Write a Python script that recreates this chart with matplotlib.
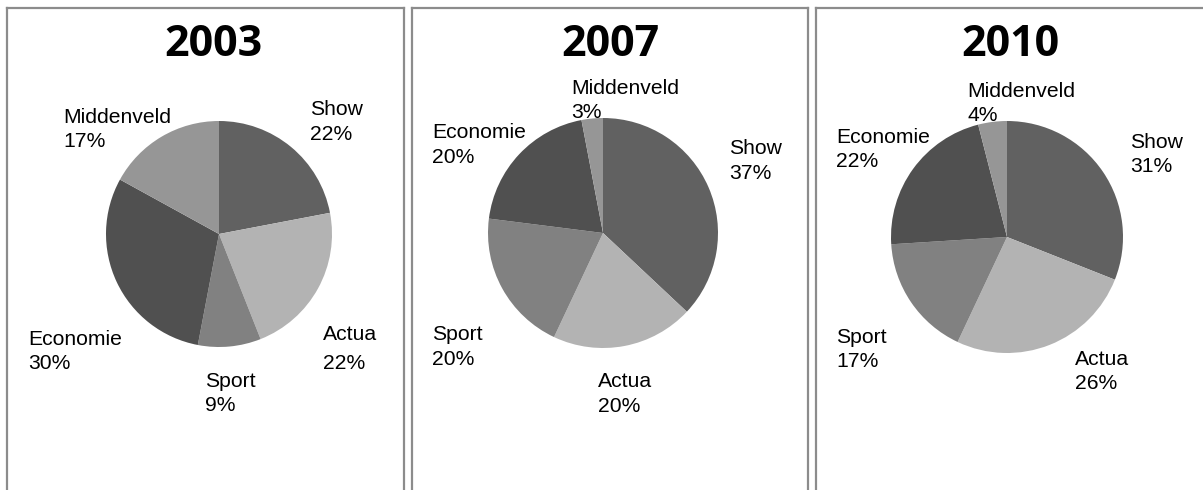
import matplotlib
matplotlib.use("Agg")
import matplotlib.pyplot as plt
from matplotlib.lines import Line2D

# ---- data ----
categories = ["Show", "Actua", "Sport", "Economie", "Middenveld"]
years = ["2003", "2007", "2010"]
values_2003 = [22, 22, 9, 30, 17]
values_2007 = [37, 20, 20, 20, 3]
values_2010 = [31, 26, 17, 22, 4]
series = [values_2003, values_2007, values_2010]
colors = ["#616161", "#b3b3b3", "#818181", "#505050", "#969696"]

# ---- layout (pixels) ----
W, H = 1203, 490
fig = plt.figure(figsize=(W / 100, H / 100), dpi=100)
fig.patch.set_facecolor("white")

def fx(x):
    return x / W

def fy(y):
    return 1 - y / H

border_col = "#8c8c8c"
panel_edges = [(7, 404), (412, 808), (816, None)]
top_y = 8
for left, right in panel_edges:
    xr = right if right is not None else W + 5
    fig.add_artist(Line2D([fx(left), fx(left)], [fy(top_y), fy(H + 5)],
                          color=border_col, lw=1.6, transform=fig.transFigure))
    fig.add_artist(Line2D([fx(left), fx(xr)], [fy(top_y), fy(top_y)],
                          color=border_col, lw=1.6, transform=fig.transFigure))
    if right is not None:
        fig.add_artist(Line2D([fx(right), fx(right)], [fy(top_y), fy(H + 5)],
                              color=border_col, lw=1.6, transform=fig.transFigure))

pie_geom = [(219, 234, 113), (603, 233, 115), (1007, 237, 116)]
title_centers = [(213, 44), (610, 44), (1010, 44)]

# label placements: (x_left, cap_top_name, cap_top_pct)
label_pos = [
    {"Show": (310, 100, 125), "Actua": (323, 325, 354), "Sport": (205, 372, 396),
     "Economie": (28, 330, 354), "Middenveld": (63, 108, 132)},
    {"Show": (729, 139, 164), "Actua": (598, 372, 397), "Sport": (432, 325, 350),
     "Economie": (432, 123, 148), "Middenveld": (571, 79, 103)},
    {"Show": (1130, 133, 157), "Actua": (1075, 350, 374), "Sport": (836, 328, 352),
     "Economie": (836, 128, 152), "Middenveld": (967, 82, 106)},
]

txt_font = "Liberation Sans"
fs = 15.2
cap = 15.2

for i, (yr, vals) in enumerate(zip(years, series)):
    cx, cy, r = pie_geom[i]
    ax = fig.add_axes([fx(cx - r), fy(cy + r), 2 * r / W, 2 * r / H])
    ax.pie(vals, colors=colors, startangle=90, counterclock=False,
           radius=1, wedgeprops=dict(linewidth=0, edgecolor="none"))
    ax.set_xlim(-1, 1)
    ax.set_ylim(-1, 1)
    ax.set_aspect("equal")
    ax.axis("off")

    tx, ty = title_centers[i]
    fig.text(fx(tx), fy(ty), yr, ha="center", va="center",
             fontsize=31, fontweight="bold", family="Open Sans")

    total = sum(vals)
    for cat, v in zip(categories, vals):
        x, t1, t2 = label_pos[i][cat]
        fig.text(fx(x), fy(t1 + cap), cat, ha="left", va="baseline",
                 fontsize=fs, family=txt_font)
        fig.text(fx(x), fy(t2 + cap), f"{round(100 * v / total)}%", ha="left",
                 va="baseline", fontsize=fs, family=txt_font)

fig.savefig("out.png", dpi=100, facecolor="white")
